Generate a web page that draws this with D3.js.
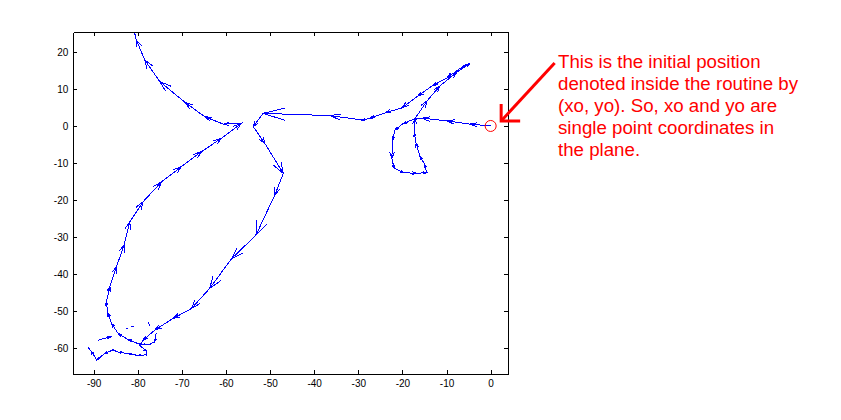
<!DOCTYPE html>
<html>
<head>
<meta charset="utf-8">
<script src="https://d3js.org/d3.v7.min.js"></script>
<style>
  body { margin: 0; background: #fff; }
  .axis text { font-family: "Liberation Sans", Arial, sans-serif; font-size: 10px; fill: #000; }
  .axis path, .axis line { stroke: #000; shape-rendering: crispEdges; }
  .quiver { fill: none; stroke: #0000ff; stroke-width: 1; shape-rendering: crispEdges; }
  .note { font-family: "Liberation Sans", Arial, sans-serif; font-size: 18.7px; fill: #ff0000; }
</style>
</head>
<body>
<svg width="841" height="420"></svg>
<script>
// trajectory, [x, y] in plot units, in the order travelled
// main run: start at the origin, right loop, up to the tip, back west, down the long diagonal
var trackStart = [
  [0, 0], [-4.7, 0.5], [-10.0, 1.4], [-15.6, 2.1], [-17.2, 1.9],
  [-19.8, 0.7], [-21.7, -1.1], [-22.2, -3.8], [-22.4, -8.7], [-21.9, -11.4],
  [-19.8, -12.6], [-16.8, -12.8], [-14.5, -12.6], [-14.9, -10.5], [-16.0, -8.3],
  [-16.9, -4.7], [-17.3, -2.0], [-17.2, 1.9], [-14.4, 6.8], [-11.5, 10.8],
  [-7.6, 14.6], [-4.7, 16.9], [-6.5, 15.9], [-9.9, 13.0], [-13.3, 10.8],
  [-16.5, 8.1], [-20.1, 4.9], [-24.0, 3.5], [-27.4, 2.1], [-29.0, 1.6],
  [-36.4, 2.8], [-51.6, 3.4], [-53.8, -0.2], [-51.2, -4.7], [-47.0, -12.8],
  [-48.9, -18.6], [-53.2, -29.5], [-58.7, -35.8], [-63.7, -43.9], [-67.8, -49.3],
  [-72.0, -52.0], [-76.1, -55.1], [-78.8, -57.9], [-79.5, -59.3],
  [-78.0, -60.9], [-78.0, -61.8], [-79.9, -62.0], [-82.2, -61.5], [-84.4, -61.1],
  [-85.6, -60.5], [-87.5, -61.5], [-89.3, -63.2], [-90.5, -60.9], [-91.1, -60.0]
];
// loose bits near the bottom loop
var trackStray1 = [[-89.0, -57.9], [-85.9, -56.8]];
var trackStray2 = [[-82.7, -54.8], [-82.3, -54.8]];
var trackStray3 = [[-81.5, -54.1], [-81.1, -54.1]];
var trackStray4 = [[-77.6, -53.0], [-77.3, -53.9]];
// second run: small loop, up the west side, NE to the centre, then off the top
var trackEnd = [
  [-75.8, -56.0], [-76.2, -58.3], [-77.3, -59.0], [-78.8, -59.0], [-79.9, -58.8],
  [-82.2, -57.7], [-84.4, -56.1], [-85.9, -53.4], [-86.8, -50.5], [-87.1, -47.5],
  [-86.3, -43.4], [-84.8, -38.0], [-83.1, -32.2], [-81.8, -25.9], [-78.8, -20.5],
  [-74.6, -15.1], [-70.1, -11.0], [-65.5, -6.9], [-61.0, -3.3], [-56.5, 0.7],
  [-60.6, 0.5], [-64.8, 2.5], [-69.3, 6.4], [-75.0, 12.0], [-78.4, 17.8],
  [-80.3, 23.2], [-80.8, 25.2]
];
var tracks = [trackStart, trackStray1, trackStray2, trackStray3, trackStray4, trackEnd];

var xTicks = [-90, -80, -70, -60, -50, -40, -30, -20, -10, 0];
var yTicks = [-60, -50, -40, -30, -20, -10, 0, 10, 20];
var xDomain = [-94.6, 4];
var yDomain = [-67, 25.3];

var noteLines = [
  "This is the initial position",
  "denoted inside the routine by",
  "(xo, yo). So, xo and yo are",
  "single point coordinates in",
  "the plane."
];

var plotLeft = 73.3, plotTop = 32.3, plotRight = 508.3, plotBottom = 374;
var svg = d3.select("svg");

var x = d3.scaleLinear().domain(xDomain).range([plotLeft, plotRight]);
var y = d3.scaleLinear().domain(yDomain).range([plotBottom, plotTop]);

svg.append("defs").append("clipPath").attr("id", "plotclip")
  .append("rect").attr("x", plotLeft).attr("y", plotTop)
  .attr("width", plotRight - plotLeft).attr("height", plotBottom - plotTop);

// quiver style arrows: one arrow per step, head at the end (matlab alpha/beta = 0.33)
var alpha = 0.33, beta = 0.33;
var arrows = [];
tracks.forEach(function(t) {
  for (var i = 0; i < t.length - 1; i++) {
    var x0 = t[i][0], y0 = t[i][1];
    var u = t[i + 1][0] - x0, v = t[i + 1][1] - y0;
    arrows.push({x0: x0, y0: y0, u: u, v: v});
  }
});

function arrowPath(d) {
  var tx = d.x0 + d.u, ty = d.y0 + d.v;
  var b1x = tx - alpha * (d.u + beta * d.v), b1y = ty - alpha * (d.v - beta * d.u);
  var b2x = tx - alpha * (d.u - beta * d.v), b2y = ty - alpha * (d.v + beta * d.u);
  return "M" + x(d.x0) + "," + y(d.y0) + "L" + x(tx) + "," + y(ty) +
    "M" + x(b1x) + "," + y(b1y) + "L" + x(tx) + "," + y(ty) + "L" + x(b2x) + "," + y(b2y);
}

svg.append("g").attr("clip-path", "url(#plotclip)")
  .selectAll("path").data(arrows).enter().append("path")
  .attr("class", "quiver")
  .attr("d", arrowPath);

// axes, ticks inward on all four sides
svg.append("g").attr("class", "axis")
  .attr("transform", "translate(0," + plotBottom + ")")
  .call(d3.axisBottom(x).tickValues(xTicks).tickFormat(function(d) { return String(d); })
    .tickSizeInner(-4).tickSizeOuter(0).tickPadding(6));
svg.append("g").attr("class", "axis")
  .attr("transform", "translate(0," + plotTop + ")")
  .call(d3.axisTop(x).tickValues(xTicks).tickFormat("").tickSizeInner(-4).tickSizeOuter(0));
svg.append("g").attr("class", "axis")
  .attr("transform", "translate(" + plotLeft + ",0)")
  .call(d3.axisLeft(y).tickValues(yTicks).tickFormat(function(d) { return String(d); })
    .tickSizeInner(-4).tickSizeOuter(0).tickPadding(5));
svg.append("g").attr("class", "axis")
  .attr("transform", "translate(" + plotRight + ",0)")
  .call(d3.axisRight(y).tickValues(yTicks).tickFormat("").tickSizeInner(-4).tickSizeOuter(0));
svg.selectAll(".axis text").attr("font-family", null).attr("font-size", null);

// red marker at the start point + annotation
var ox = x(trackStart[0][0]), oy = y(trackStart[0][1]);
svg.append("circle").attr("cx", ox).attr("cy", oy).attr("r", 5.5)
  .attr("fill", "none").attr("stroke", "#ff0000").attr("stroke-width", 1);

var tipX = ox + 10.5, tipY = oy - 5;
svg.append("line")
  .attr("x1", ox + 64).attr("y1", oy - 63).attr("x2", tipX).attr("y2", tipY)
  .attr("stroke", "#ff0000").attr("stroke-width", 3);
svg.append("path")
  .attr("d", "M" + tipX + "," + (tipY - 17) + "L" + tipX + "," + tipY + "L" + (tipX + 19) + "," + tipY)
  .attr("fill", "none").attr("stroke", "#ff0000").attr("stroke-width", 3);

svg.append("g").selectAll("text").data(noteLines).enter().append("text")
  .attr("class", "note")
  .attr("x", 558)
  .attr("y", function(d, i) { return 68.3 + i * 21.8; })
  .text(function(d) { return d; });
</script>
</body>
</html>
